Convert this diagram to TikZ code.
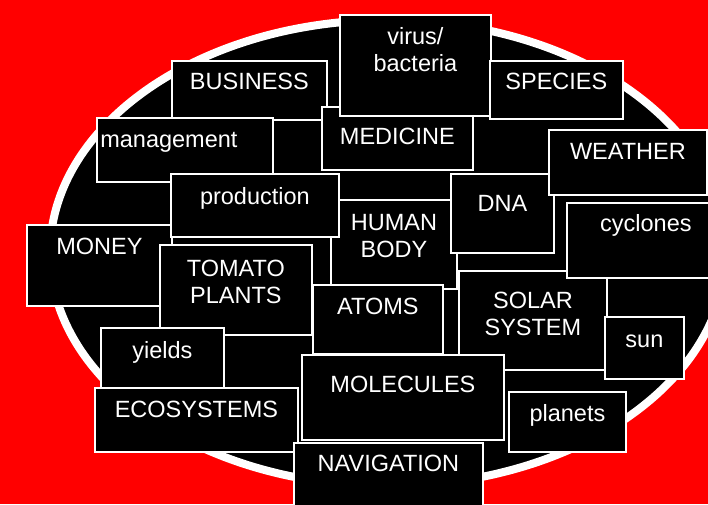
\documentclass[tikz,border=0pt]{standalone}
\usepackage{fontspec}
\setmainfont{Liberation Sans}
\begin{document}
\begin{tikzpicture}[x=1pt,y=-1pt,
  tile/.style={draw=white,fill=black,line width=1.8pt,inner sep=0pt,anchor=north west},
  word/.style={text=white,align=center,anchor=base,inner sep=0pt,font=\fontsize{23.5}{27}\selectfont}]
 \useasboundingbox (0,0) rectangle (708,504);
 \fill[red] (0,0) rectangle (708,504);
 \draw[white,fill=black,line width=8pt] (388,253) ellipse [x radius=338pt,y radius=233pt];
 % upper boxes
 \node[tile,minimum width=155pt,minimum height=59pt] (bus) at (171,60) {};
 \node[word] (bus-t) at ([yshift=-29.5pt]bus.north) {BUSINESS};
 \node[tile,minimum width=176pt,minimum height=64pt] (mgmt) at (96,117) {};
 \node[word] (mgmt-t) at ([xshift=-16pt,yshift=-30.5pt]mgmt.north) {management};
 \node[tile,minimum width=151pt,minimum height=63pt] (med) at (321,106) {};
 \node[word] (med-t) at ([yshift=-38pt]med.north) {MEDICINE};
 \node[tile,minimum width=151pt,minimum height=101pt] (virus) at (339,14) {};
 \node[word] (virus-t) at ([yshift=-57.3pt]virus.north) {virus/\\bacteria};
 \node[tile,minimum width=133pt,minimum height=58pt] (spec) at (489,60) {};
 \node[word] (spec-t) at ([yshift=-29.5pt]spec.north) {SPECIES};
 % middle boxes
 \node[tile,minimum width=145pt,minimum height=81pt] (money) at (26,224) {};
 \node[word] (money-t) at ([yshift=-30pt]money.north) {MONEY};
 \node[tile,minimum width=126pt,minimum height=89pt] (body) at (330,199) {};
 \node[word] (body-t) at ([yshift=-58pt]body.north) {HUMAN\\BODY};
 \node[tile,minimum width=168pt,minimum height=63pt] (prod) at (170,173) {};
 \node[word] (prod-t) at ([yshift=-31pt]prod.north) {production};
 \node[tile,minimum width=103pt,minimum height=79pt] (dna) at (450,173) {};
 \node[word] (dna-t) at ([yshift=-38pt]dna.north) {DNA};
 \node[tile,minimum width=158pt,minimum height=65pt] (weather) at (548,129) {};
 \node[word] (weather-t) at ([yshift=-30.5pt]weather.north) {WEATHER};
 \node[tile,minimum width=152pt,minimum height=90pt] (tomato) at (159,244) {};
 \node[word] (tomato-t) at ([yshift=-59pt]tomato.north) {TOMATO\\PLANTS};
 % lower boxes
 \node[tile,minimum width=123pt,minimum height=60pt] (yields) at (100,327) {};
 \node[word] (yields-t) at ([yshift=-31pt]yields.north) {yields};
 \node[tile,minimum width=203pt,minimum height=64pt] (eco) at (94,387) {};
 \node[word] (eco-t) at ([yshift=-30.5pt]eco.north) {ECOSYSTEMS};
 \node[tile,minimum width=130pt,minimum height=69pt] (atoms) at (312,284) {};
 \node[word] (atoms-t) at ([yshift=-30pt]atoms.north) {ATOMS};
 \node[tile,minimum width=148pt,minimum height=99pt] (solar) at (458,270) {};
 \node[word] (solar-t) at ([yshift=-65.5pt]solar.north) {SOLAR\\SYSTEM};
 \node[tile,minimum width=158pt,minimum height=75pt] (cyclones) at (566,202) {};
 \node[word] (cyclones-t) at ([yshift=-29.5pt]cyclones.north) {cyclones};
 \node[tile,minimum width=79pt,minimum height=62pt] (sun) at (604,316) {};
 \node[word] (sun-t) at ([yshift=-31pt]sun.north) {sun};
 \node[tile,minimum width=202pt,minimum height=85pt] (mol) at (301,354) {};
 \node[word] (mol-t) at ([yshift=-38pt]mol.north) {MOLECULES};
 \node[tile,minimum width=117pt,minimum height=60pt] (planets) at (508,391) {};
 \node[word] (planets-t) at ([yshift=-30.5pt]planets.north) {planets};
 \node[tile,minimum width=189pt,minimum height=70pt] (nav) at (293,442) {};
 \node[word] (nav-t) at ([yshift=-29.5pt]nav.north) {NAVIGATION};
\end{tikzpicture}
\end{document}
